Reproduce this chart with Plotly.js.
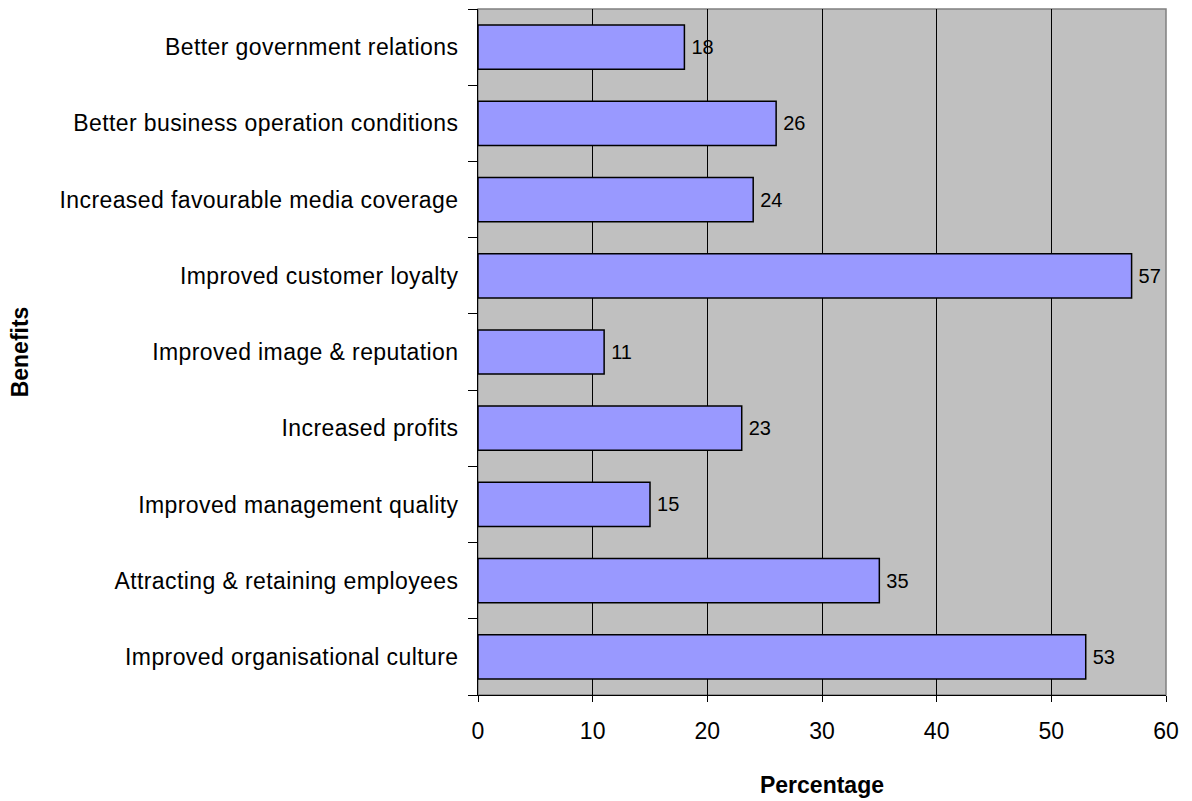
<!DOCTYPE html>
<html>
<head>
<meta charset="utf-8">
<script src="https://cdn.plot.ly/plotly-3.0.1.min.js"></script>
<style>
  html, body { margin: 0; padding: 0; background: #ffffff; }
  #chart { width: 1192px; height: 801px; }
  /* slightly airier category labels */
  #chart .ytick text { letter-spacing: 0.4px; }
</style>
</head>
<body>
<div id="chart"></div>
<script>
// Benefits, listed bottom to top
const benefits = [
  "Improved organisational culture",
  "Attracting & retaining employees",
  "Improved management quality",
  "Increased profits",
  "Improved image & reputation",
  "Improved customer loyalty",
  "Increased favourable media coverage",
  "Better business operation conditions",
  "Better government relations"
];
const percentages = [53, 35, 15, 23, 11, 57, 24, 26, 18];
const xTicks = [0, 10, 20, 30, 40, 50, 60];

const font = "Liberation Sans, Arial, sans-serif";

const trace = {
  type: "bar",
  orientation: "h",
  y: benefits,
  x: percentages,
  // value labels at the bar ends, nudged off the bar edge by a thin space
  text: percentages.map(v => "\u2009" + v),
  textposition: "outside",
  textfont: { family: font, size: 20, color: "#000000" },
  cliponaxis: false,
  marker: { color: "#9999FF", line: { color: "#000000", width: 1.5 } },
  hoverinfo: "x+y"
};

const layout = {
  width: 1192,
  height: 801,
  margin: { l: 478, r: 26, t: 9, b: 106 },
  paper_bgcolor: "#ffffff",
  plot_bgcolor: "#C0C0C0",
  bargap: 0.42,
  showlegend: false,
  font: { family: font, color: "#000000" },
  xaxis: {
    range: [0, 60],
    tickvals: xTicks,
    ticktext: xTicks.map(String),
    ticks: "outside",
    ticklen: 6,
    tickcolor: "#000000",
    tickfont: { family: font, size: 23 },
    ticklabelstandoff: 9,
    showgrid: true,
    gridcolor: "#000000",
    gridwidth: 1,
    showline: true,
    linecolor: "#000000",
    linewidth: 1,
    zeroline: false,
    fixedrange: true,
    title: { text: "<b>Percentage</b>", font: { family: font, size: 23 }, standoff: 34 }
  },
  yaxis: {
    type: "category",
    tickson: "boundaries",
    ticks: "outside",
    ticklen: 9,
    tickcolor: "#000000",
    tickfont: { family: font, size: 23 },
    ticklabelstandoff: 14,
    showgrid: false,
    showline: true,
    linecolor: "#000000",
    linewidth: 1,
    zeroline: false,
    fixedrange: true,
    title: { text: "<b>Benefits</b>", font: { family: font, size: 23 }, standoff: 38 }
  },
  shapes: [
    {
      type: "rect", xref: "paper", yref: "paper",
      x0: 0, x1: 1, y0: 0, y1: 1,
      line: { color: "#808080", width: 1.5 },
      layer: "below"
    }
  ]
};

Plotly.newPlot("chart", [trace], layout, { displayModeBar: false, staticPlot: true });
</script>
</body>
</html>
